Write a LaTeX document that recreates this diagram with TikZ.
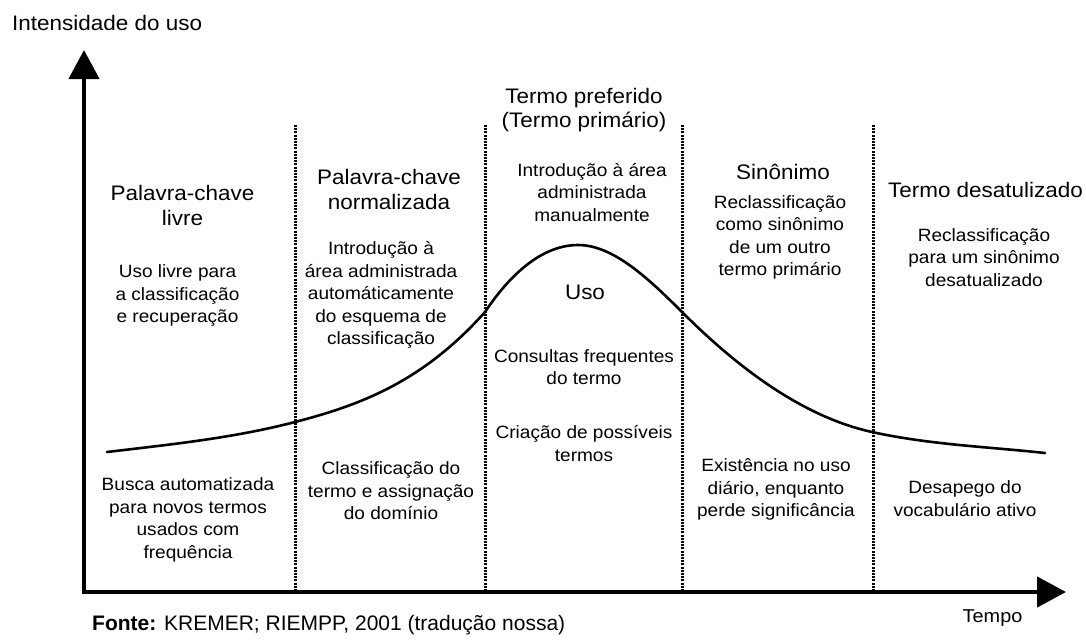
\documentclass[tikz,border=0pt]{standalone}
\usepackage{fontspec}
\setmainfont{Liberation Sans}
\newfontfamily\stretchf[FakeStretch=1.07]{Liberation Sans}
\usetikzlibrary{arrows.meta}
\begin{document}
\begin{tikzpicture}[x=1pt,y=-1pt,
  hdr/.style={font=\stretchf\fontsize{21}{24.5}\selectfont, align=center, inner sep=0pt},
  body/.style={font=\stretchf\fontsize{17.8}{22.5}\selectfont, align=center, inner sep=0pt},
  axisline/.style={line width=4.5pt, line join=miter, {Triangle[length=29pt,width=30pt]}-{Triangle[length=29pt,width=30pt]}},
  divider/.style={line width=3pt, dash pattern=on 2pt off 1.2pt},
  curveline/.style={line width=2.6pt, line cap=round, line join=round}]
\useasboundingbox (0,0) rectangle (1086,641);

% axes
\coordinate (ytip) at (84,50);
\coordinate (origin) at (84,592);
\coordinate (xtip) at (1066,592);
\draw[axisline] (ytip) -- (origin) -- (xtip);

% dividers
\coordinate (d1t) at (295,125); \coordinate (d1b) at (295,592);
\coordinate (d2t) at (485,125); \coordinate (d2b) at (485,592);
\coordinate (d3t) at (682,125); \coordinate (d3b) at (682,592);
\coordinate (d4t) at (873,125); \coordinate (d4b) at (873,592);
\draw[divider] (d1t) -- (d1b);
\draw[divider] (d2t) -- (d2b);
\draw[divider] (d3t) -- (d3b);
\draw[divider] (d4t) -- (d4b);

% usage curve
\coordinate (c0) at (107,452);
\coordinate (c1) at (295,422);
\coordinate (c2) at (485,312);
\coordinate (c3) at (578,245);
\coordinate (c4) at (682,312);
\coordinate (c5) at (872,432);
\coordinate (c6) at (1045,453);
\draw[curveline] (c0)
  .. controls (169.7,444.5) and (232.3,438.3) .. (c1)
  .. controls (358.3,405.5) and (421.7,383.0) .. (c2)
  .. controls (513,270) and (545,245) .. (c3)
  .. controls (612.7,245) and (647.3,277.3) .. (c4)
  .. controls (745.3,375.3) and (808.7,418.1) .. (c5)
  .. controls (929.7,444.7) and (987.3,446.7) .. (c6);

% axis labels
\node[anchor=base west, inner sep=0pt, font=\stretchf\fontsize{21}{25}\selectfont] (ylabel) at (12,30) {Intensidade do uso};
\node[anchor=base, inner sep=0pt, font=\stretchf\fontsize{18.6}{22}\selectfont] (tempo) at (992.5,622) {Tempo};
\node[anchor=base west, inner sep=0pt, font=\fontsize{21}{24}\selectfont] (fonte) at (92,630) {\textbf{Fonte:} KREMER; RIEMPP, 2001 (tradução nossa)};

% headers
\node[hdr] (h1) at (182.5,205.5) {Palavra-chave\\livre};
\node[hdr] (h2) at (389,189.5) {Palavra-chave\\normalizada};
\node[hdr] (h3) at (584,110) {Termo preferido\\(Termo primário)};
\node[hdr] (h4) at (783,172) {Sinônimo};
\node[hdr] (h5) at (985.5,190) {Termo desatulizado};
\node[hdr] (uso) at (585,292) {Uso};

% body texts
\node[body] (t1a) at (177.5,295.5) {Uso livre para\\a classificação\\e recuperação};
\node[body] (t1b) at (188,520) {Busca automatizada\\para novos termos\\usados com\\frequência};
\node[body] (t2a) at (381,295) {Introdução à\\área administrada\\automáticamente\\do esquema de\\classificação};
\node[body] (t2b) at (391,491) {Classificação do\\termo e assignação\\do domínio};
\node[body] (t3a) at (592,192.5) {Introdução à área\\administrada\\manualmente};
\node[body] (t3b) at (584,367) {Consultas frequentes\\do termo};
\node[body] (t3c) at (584,443.5) {Criação de possíveis\\termos};
\node[body] (t4a) at (780,237.5) {Reclassificação\\como sinônimo\\de um outro\\termo primário};
\node[body] (t4b) at (776,489.5) {Existência no uso\\diário, enquanto\\perde significância};
\node[body] (t5a) at (984,257.5) {Reclassificação\\para um sinônimo\\desatualizado};
\node[body] (t5b) at (965,498.5) {Desapego do\\vocabulário ativo};
\end{tikzpicture}
\end{document}
